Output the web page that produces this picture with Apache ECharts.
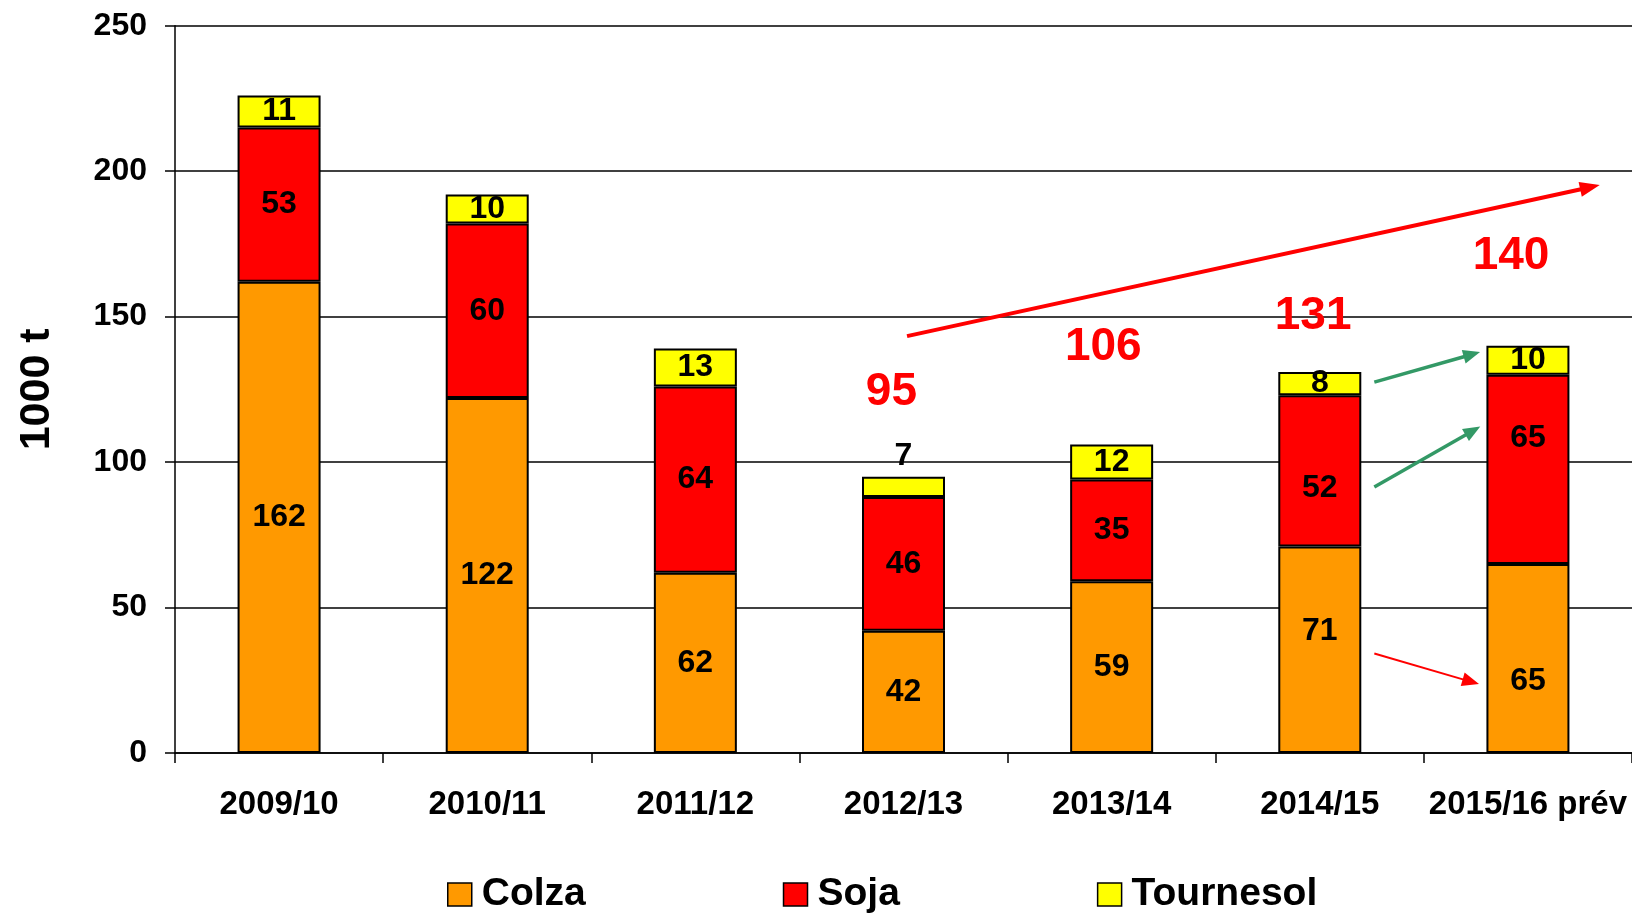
<!DOCTYPE html>
<html>
<head>
<meta charset="utf-8">
<title>Colza, Soja, Tournesol (1000 t)</title>
<script src="https://cdn.jsdelivr.net/npm/echarts@6/dist/echarts.min.js"></script>
<style>
  html, body { margin: 0; padding: 0; background: #ffffff; }
  #chart { width: 1632px; height: 914px; }
</style>
</head>
<body>
<div id="chart"></div>
<script>
// Campaign years
const categories = ['2009/10', '2010/11', '2011/12', '2012/13', '2013/14', '2014/15', '2015/16 prév'];

// Volumes per crop, 1000 t
const colza     = [162, 122, 62, 42, 59, 71, 65];
const soja      = [53, 60, 64, 46, 35, 52, 65];
const tournesol = [11, 10, 13, 7, 12, 8, 10];

// Value axis ticks
const yMin = 0, yMax = 250, yStep = 50;

// Campaigns whose total is called out in red
const totalIndices = [3, 4, 5, 6];

const FONT = "'Liberation Sans', Arial, sans-serif";
const COLORS = { colza: '#FF9900', soja: '#FF0000', tournesol: '#FFFF00' };

const chart = echarts.init(document.getElementById('chart'), null, { renderer: 'canvas' });

const barLabel = {
  show: true,
  position: 'inside',
  color: '#000',
  fontFamily: FONT,
  fontWeight: 'bold',
  fontSize: 32
};

function barSeries(name, data, color) {
  return {
    name: name,
    type: 'bar',
    stack: 'total',
    barWidth: 83,
    data: data,
    itemStyle: { color: color, borderColor: '#000', borderWidth: 2 },
    label: barLabel,
    emphasis: { disabled: true }
  };
}

// Per-bar label nudges (pixels) for the last two campaigns
const labelShift = {
  colza: { 5: -19, 6: 23 },
  soja:  { 5: 17, 6: -31 }
};
function withShift(values, shifts) {
  return values.map((v, i) => shifts[i] !== undefined
    ? { value: v, label: { offset: [0, shifts[i]] } }
    : v);
}

// The smallest sunflower value sits above its bar instead of inside
const tournesolData = tournesol.map((v, i) => i === 3
  ? { value: v, label: { position: 'top', distance: 4 } }
  : v);

chart.setOption({
  animation: false,
  backgroundColor: '#ffffff',
  grid: { left: 175, right: -3, top: 25.7, bottom: 161, containLabel: false },
  legend: {
    data: ['Colza', 'Soja', 'Tournesol'],
    left: 442,
    top: 870,
    icon: 'rect',
    itemWidth: 24,
    itemHeight: 23,
    itemGap: 197,
    itemStyle: { borderColor: '#000', borderWidth: 1.5 },
    textStyle: { color: '#000', fontFamily: FONT, fontWeight: 'bold', fontSize: 39, padding: [0, 0, 0, 5] },
    selectedMode: false
  },
  xAxis: {
    type: 'category',
    data: categories,
    axisLine: { lineStyle: { color: '#000', width: 1.5 } },
    axisTick: { show: true, length: 10, lineStyle: { color: '#000', width: 1.5 } },
    axisLabel: { color: '#000', fontFamily: FONT, fontWeight: 'bold', fontSize: 33, margin: 35, interval: 0 }
  },
  yAxis: {
    type: 'value',
    min: yMin,
    max: yMax,
    interval: yStep,
    name: '1000 t',
    nameLocation: 'middle',
    nameGap: 116,
    nameTextStyle: { color: '#000', fontFamily: FONT, fontWeight: 'bold', fontSize: 43 },
    axisLine: { show: true, lineStyle: { color: '#000', width: 1.5 } },
    axisTick: { show: true, length: 10, lineStyle: { color: '#000', width: 1.5 } },
    axisLabel: { color: '#000', fontFamily: FONT, fontWeight: 'bold', fontSize: 32, margin: 28 },
    splitLine: { show: true, lineStyle: { color: '#000', width: 1.5 } }
  },
  series: [
    barSeries('Colza', withShift(colza, labelShift.colza), COLORS.colza),
    barSeries('Soja', withShift(soja, labelShift.soja), COLORS.soja),
    barSeries('Tournesol', tournesolData, COLORS.tournesol)
  ]
});

// Annotation layout: positions in (category index, axis value) space
const totalPlacement = {
  3: [2.942, 124.1],
  4: [3.960, 139.4],
  5: [4.968, 150.1],
  6: [5.919, 170.6]
};
const arrows = [
  { from: [3.017, 143.3], to: [6.345, 195.2], color: '#FF0000', width: 4,   head: [20, 15] },
  { from: [5.262, 127.5], to: [5.770, 137.8], color: '#339966', width: 3.5, head: [17, 14] },
  { from: [5.262, 91.4],  to: [5.771, 112.2], color: '#339966', width: 3.5, head: [17, 14] },
  { from: [5.262, 34.2],  to: [5.765, 23.7],  color: '#FF0000', width: 2,   head: [17, 14] }
];

function toPx(i, v) {
  const p0 = chart.convertToPixel({ gridIndex: 0 }, [0, v]);
  const p1 = chart.convertToPixel({ gridIndex: 0 }, [1, v]);
  return [p0[0] + i * (p1[0] - p0[0]), p0[1]];
}

function arrowElements(a) {
  const [x1, y1] = toPx(a.from[0], a.from[1]);
  const [x2, y2] = toPx(a.to[0], a.to[1]);
  const dx = x2 - x1, dy = y2 - y1;
  const len = Math.hypot(dx, dy);
  const ux = dx / len, uy = dy / len;
  const [hl, hw] = a.head;
  const bx = x2 - ux * hl, by = y2 - uy * hl;
  const nx = -uy, ny = ux;
  return [
    {
      type: 'line', z: 100,
      shape: { x1: x1, y1: y1, x2: bx + ux * 2, y2: by + uy * 2 },
      style: { stroke: a.color, lineWidth: a.width }
    },
    {
      type: 'polygon', z: 100,
      shape: { points: [[x2, y2], [bx + nx * hw / 2, by + ny * hw / 2], [bx - nx * hw / 2, by - ny * hw / 2]] },
      style: { fill: a.color }
    }
  ];
}

const graphics = [];
totalIndices.forEach(i => {
  const total = colza[i] + soja[i] + tournesol[i];
  const [x, y] = toPx(totalPlacement[i][0], totalPlacement[i][1]);
  graphics.push({
    type: 'text', z: 100, x: x, y: y,
    style: {
      text: String(total),
      fill: '#FF0000',
      fontFamily: FONT,
      fontWeight: 'bold',
      fontSize: 46,
      align: 'center',
      verticalAlign: 'middle'
    }
  });
});
arrows.forEach(a => graphics.push(...arrowElements(a)));

chart.setOption({ graphic: graphics });
</script>
</body>
</html>
